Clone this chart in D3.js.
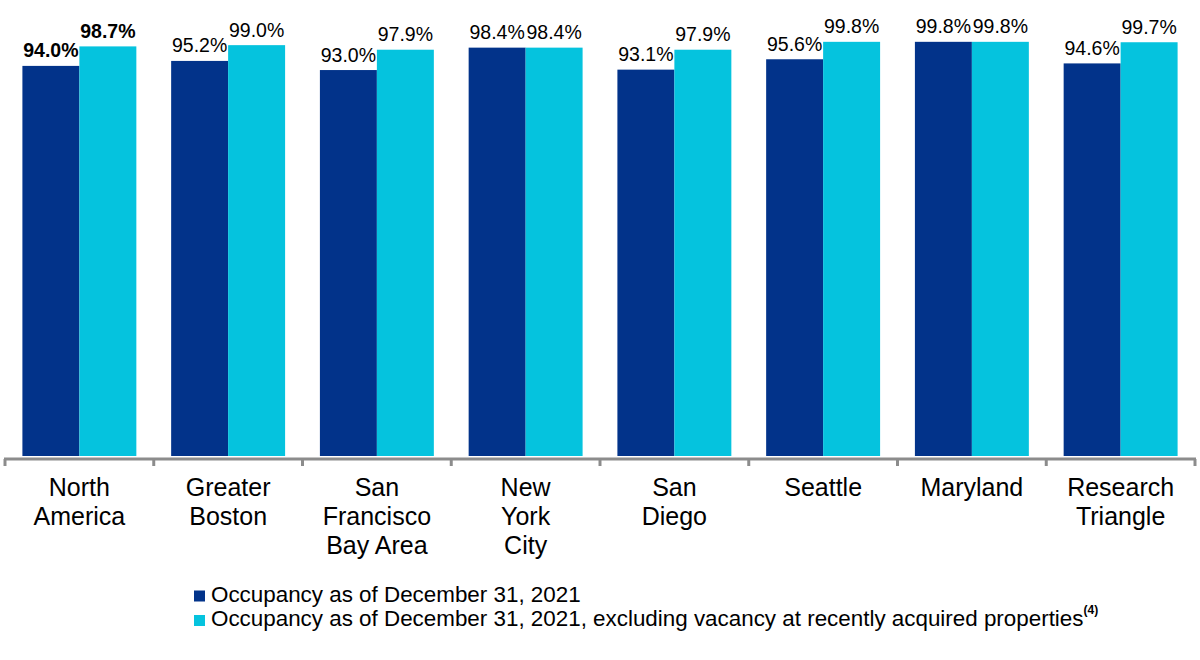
<!DOCTYPE html>
<html>
<head>
<meta charset="utf-8">
<script src="https://cdn.jsdelivr.net/npm/d3@7"></script>
<style>
  body { margin: 0; background: #fff; }
  text { font-family: "Liberation Sans", Arial, sans-serif; fill: #000; }
</style>
</head>
<body>
<div id="chart"></div>
<script>
var width = 1200;
var height = 660;

var categories = ["North America", "Greater Boston", "San Francisco Bay Area", "New York City",
  "San Diego", "Seattle", "Maryland", "Research Triangle"];
var categoryLines = [["North", "America"], ["Greater", "Boston"], ["San", "Francisco", "Bay Area"],
  ["New", "York", "City"], ["San", "Diego"], ["Seattle"], ["Maryland"], ["Research", "Triangle"]];
var series = ["Occupancy as of December 31, 2021",
  "Occupancy as of December 31, 2021, excluding vacancy at recently acquired properties"];
var occupancy = [94.0, 95.2, 93.0, 98.4, 93.1, 95.6, 99.8, 94.6];
var occupancyExcl = [98.7, 99.0, 97.9, 98.4, 97.9, 99.8, 99.8, 99.7];

var colors = ["#02338a", "#05c3de"];

var svg = d3.select("#chart")
  .append("svg")
  .attr("width", width)
  .attr("height", height);

var xScale = d3.scaleBand()
  .domain(categories)
  .range([5, 1195])
  .paddingInner(0.234)
  .paddingOuter(0.117);

var xSub = d3.scaleBand()
  .domain([0, 1])
  .range([0, xScale.bandwidth()]);

var yScale = d3.scaleLinear()
  .domain([0, 100])
  .range([456, 41]);

var rows = categories.map(function(c, i) {
  return {cat: c, i: i, values: [occupancy[i], occupancyExcl[i]]};
});

var groups = svg.selectAll("g.group")
  .data(rows)
  .enter()
  .append("g")
    .attr("class", "group")
    .attr("transform", function(d) { return `translate(${xScale(d.cat)},0)`; });

groups.selectAll("rect")
  .data(function(d) { return d.values.map(function(v, s) { return {v: v, s: s}; }); })
  .enter()
  .append("rect")
    .attr("x", function(d) { return xSub(d.s); })
    .attr("y", function(d) { return yScale(d.v); })
    .attr("width", xSub.bandwidth())
    .attr("height", function(d) { return yScale(0) - yScale(d.v); })
    .attr("fill", function(d) { return colors[d.s]; });

groups.each(function(row) {
  d3.select(this).selectAll("text.val")
    .data(row.values)
    .enter()
    .append("text")
      .attr("class", "val")
      .attr("x", function(v, s) { return xSub(s) + xSub.bandwidth() / 2; })
      .attr("y", function(v) { return yScale(v) - 8.5; })
      .attr("text-anchor", "middle")
      .attr("font-size", 19.5)
      .attr("font-weight", row.i === 0 ? "bold" : "normal")
      .text(function(v) { return v.toFixed(1) + "%"; });
});

// axis line with ticks at the category boundaries
var step = xScale.step();
var x0 = xScale.range()[0];
var axis = svg.append("g");
axis.append("line")
  .attr("x1", x0 - 1).attr("x2", xScale.range()[1] + 1)
  .attr("y1", 459).attr("y2", 459)
  .attr("stroke", "#8c8c8c")
  .attr("stroke-width", 3);
axis.selectAll("line.tick")
  .data(d3.range(categories.length + 1))
  .enter()
  .append("line")
    .attr("class", "tick")
    .attr("x1", function(i) { return x0 + i * step; })
    .attr("x2", function(i) { return x0 + i * step; })
    .attr("y1", 459).attr("y2", 466)
    .attr("stroke", "#8c8c8c")
    .attr("stroke-width", 3);

svg.selectAll("text.cat")
  .data(rows)
  .enter()
  .append("text")
    .attr("class", "cat")
    .attr("text-anchor", "middle")
    .attr("font-size", 25)
    .each(function(d) {
      var cx = xScale(d.cat) + xScale.bandwidth() / 2;
      d3.select(this).selectAll("tspan")
        .data(categoryLines[d.i])
        .enter()
        .append("tspan")
          .attr("x", cx)
          .attr("y", function(l, k) { return 496 + k * 29; })
          .text(function(l) { return l; });
    });

// legend
var legend = svg.append("g").attr("transform", "translate(194,0)");
series.forEach(function(name, s) {
  var y = 601.5 + s * 24.5;
  legend.append("rect")
    .attr("x", 0).attr("y", y - 11)
    .attr("width", 11).attr("height", 11)
    .attr("fill", colors[s]);
  var t = legend.append("text")
    .attr("x", 17).attr("y", y)
    .attr("font-size", 22.4)
    .text(name);
  if (s === 1) {
    t.append("tspan")
      .attr("dy", -12)
      .attr("font-size", 12)
      .attr("font-weight", "bold")
      .text("(4)");
  }
});
</script>
</body>
</html>
